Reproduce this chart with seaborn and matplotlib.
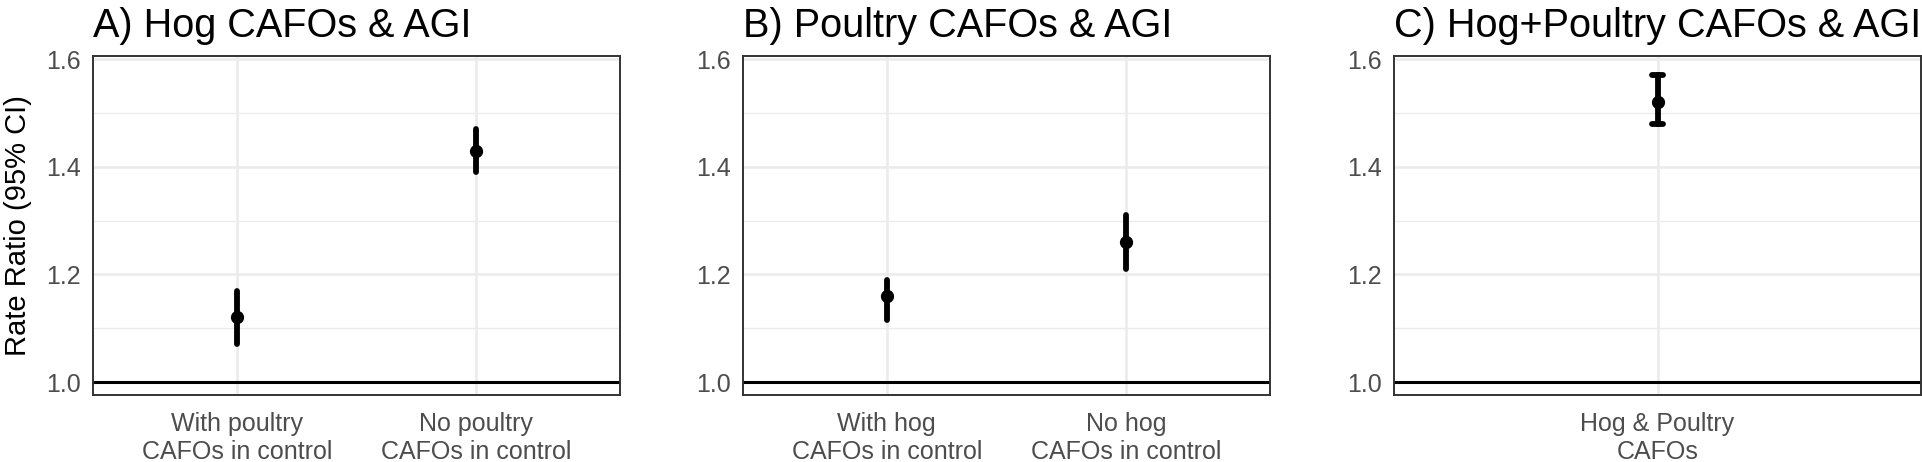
import pandas as pd
import numpy as np
import matplotlib
matplotlib.use('Agg')
import matplotlib.pyplot as plt
from matplotlib.ticker import MultipleLocator
import seaborn as sns

# --- DATA (rate ratios with 95% CI) ---
titles = ['A) Hog CAFOs & AGI', 'B) Poultry CAFOs & AGI', 'C) Hog+Poultry CAFOs & AGI']

a_groups = ['With poultry\nCAFOs in control', 'No poultry\nCAFOs in control']
a_est = [1.12, 1.43]
a_lo = [1.07, 1.39]
a_hi = [1.17, 1.47]

b_groups = ['With hog\nCAFOs in control', 'No hog\nCAFOs in control']
b_est = [1.16, 1.26]
b_lo = [1.115, 1.21]
b_hi = [1.19, 1.31]

c_groups = ['Hog & Poultry\nCAFOs']
c_est = [1.52]
c_lo = [1.48]
c_hi = [1.57]


def long_frame(groups, est, lo, hi):
    # three rows per group: median = estimate, min/max = CI bounds
    rows = []
    for g, e, l, h in zip(groups, est, lo, hi):
        for v in (l, e, h):
            rows.append({'group': g, 'rr': v})
    return pd.DataFrame(rows)


panels = [
    long_frame(a_groups, a_est, a_lo, a_hi),
    long_frame(b_groups, b_est, b_lo, b_hi),
    long_frame(c_groups, c_est, c_lo, c_hi),
]
caps = [0, 0, 0.025]

sns.set_style('white')
plt.rcParams['font.family'] = ['Liberation Sans', 'DejaVu Sans']

fig = plt.figure(figsize=(19.22, 4.62), dpi=100)
lefts = [93 / 1922, 743 / 1922, 1394 / 1922]
width = 527 / 1922
bottom = 1 - 395 / 462
height = (395 - 56) / 462

for i, df in enumerate(panels):
    ax = fig.add_axes([lefts[i], bottom, width, height])
    ax.set_axisbelow(True)
    ax.axhline(1.0, color='black', linewidth=2.2, zorder=1)
    sns.pointplot(data=df, x='group', y='rr', estimator='median',
                  errorbar=('pi', 100), color='black', linestyle='none',
                  marker='o', markersize=7.5, err_kws={'linewidth': 4.2},
                  capsize=caps[i], ax=ax)
    n = df['group'].nunique()
    ax.set_xlim(-0.6, n - 1 + 0.6)
    ax.set_ylim(0.976, 1.6056)
    ax.yaxis.set_major_locator(MultipleLocator(0.2))
    ax.yaxis.set_minor_locator(MultipleLocator(0.1))
    ax.yaxis.set_major_formatter(matplotlib.ticker.FormatStrFormatter('%.1f'))
    ax.grid(which='major', axis='both', color='#EBEBEB', linewidth=1.8)
    ax.grid(which='minor', axis='y', color='#EBEBEB', linewidth=1.0)
    ax.tick_params(which='major', length=6, width=1.5, color='#333333',
                   labelcolor='#4D4D4D', labelsize=18, pad=3)
    ax.tick_params(axis='x', which='major', pad=6)
    ax.tick_params(which='minor', length=0)
    for lbl in ax.get_xticklabels():
        lbl.set_linespacing(1.22)
    for s in ax.spines.values():
        s.set_color('#333333')
        s.set_linewidth(1.4)
    ax.set_xlabel('')
    ax.set_ylabel('Rate Ratio (95% CI)' if i == 0 else '', fontsize=21,
                  color='black', labelpad=10)
    ax.set_title(titles[i], loc='left', fontsize=28.5, pad=14, color='black')

fig.savefig('out.png', dpi=100)
